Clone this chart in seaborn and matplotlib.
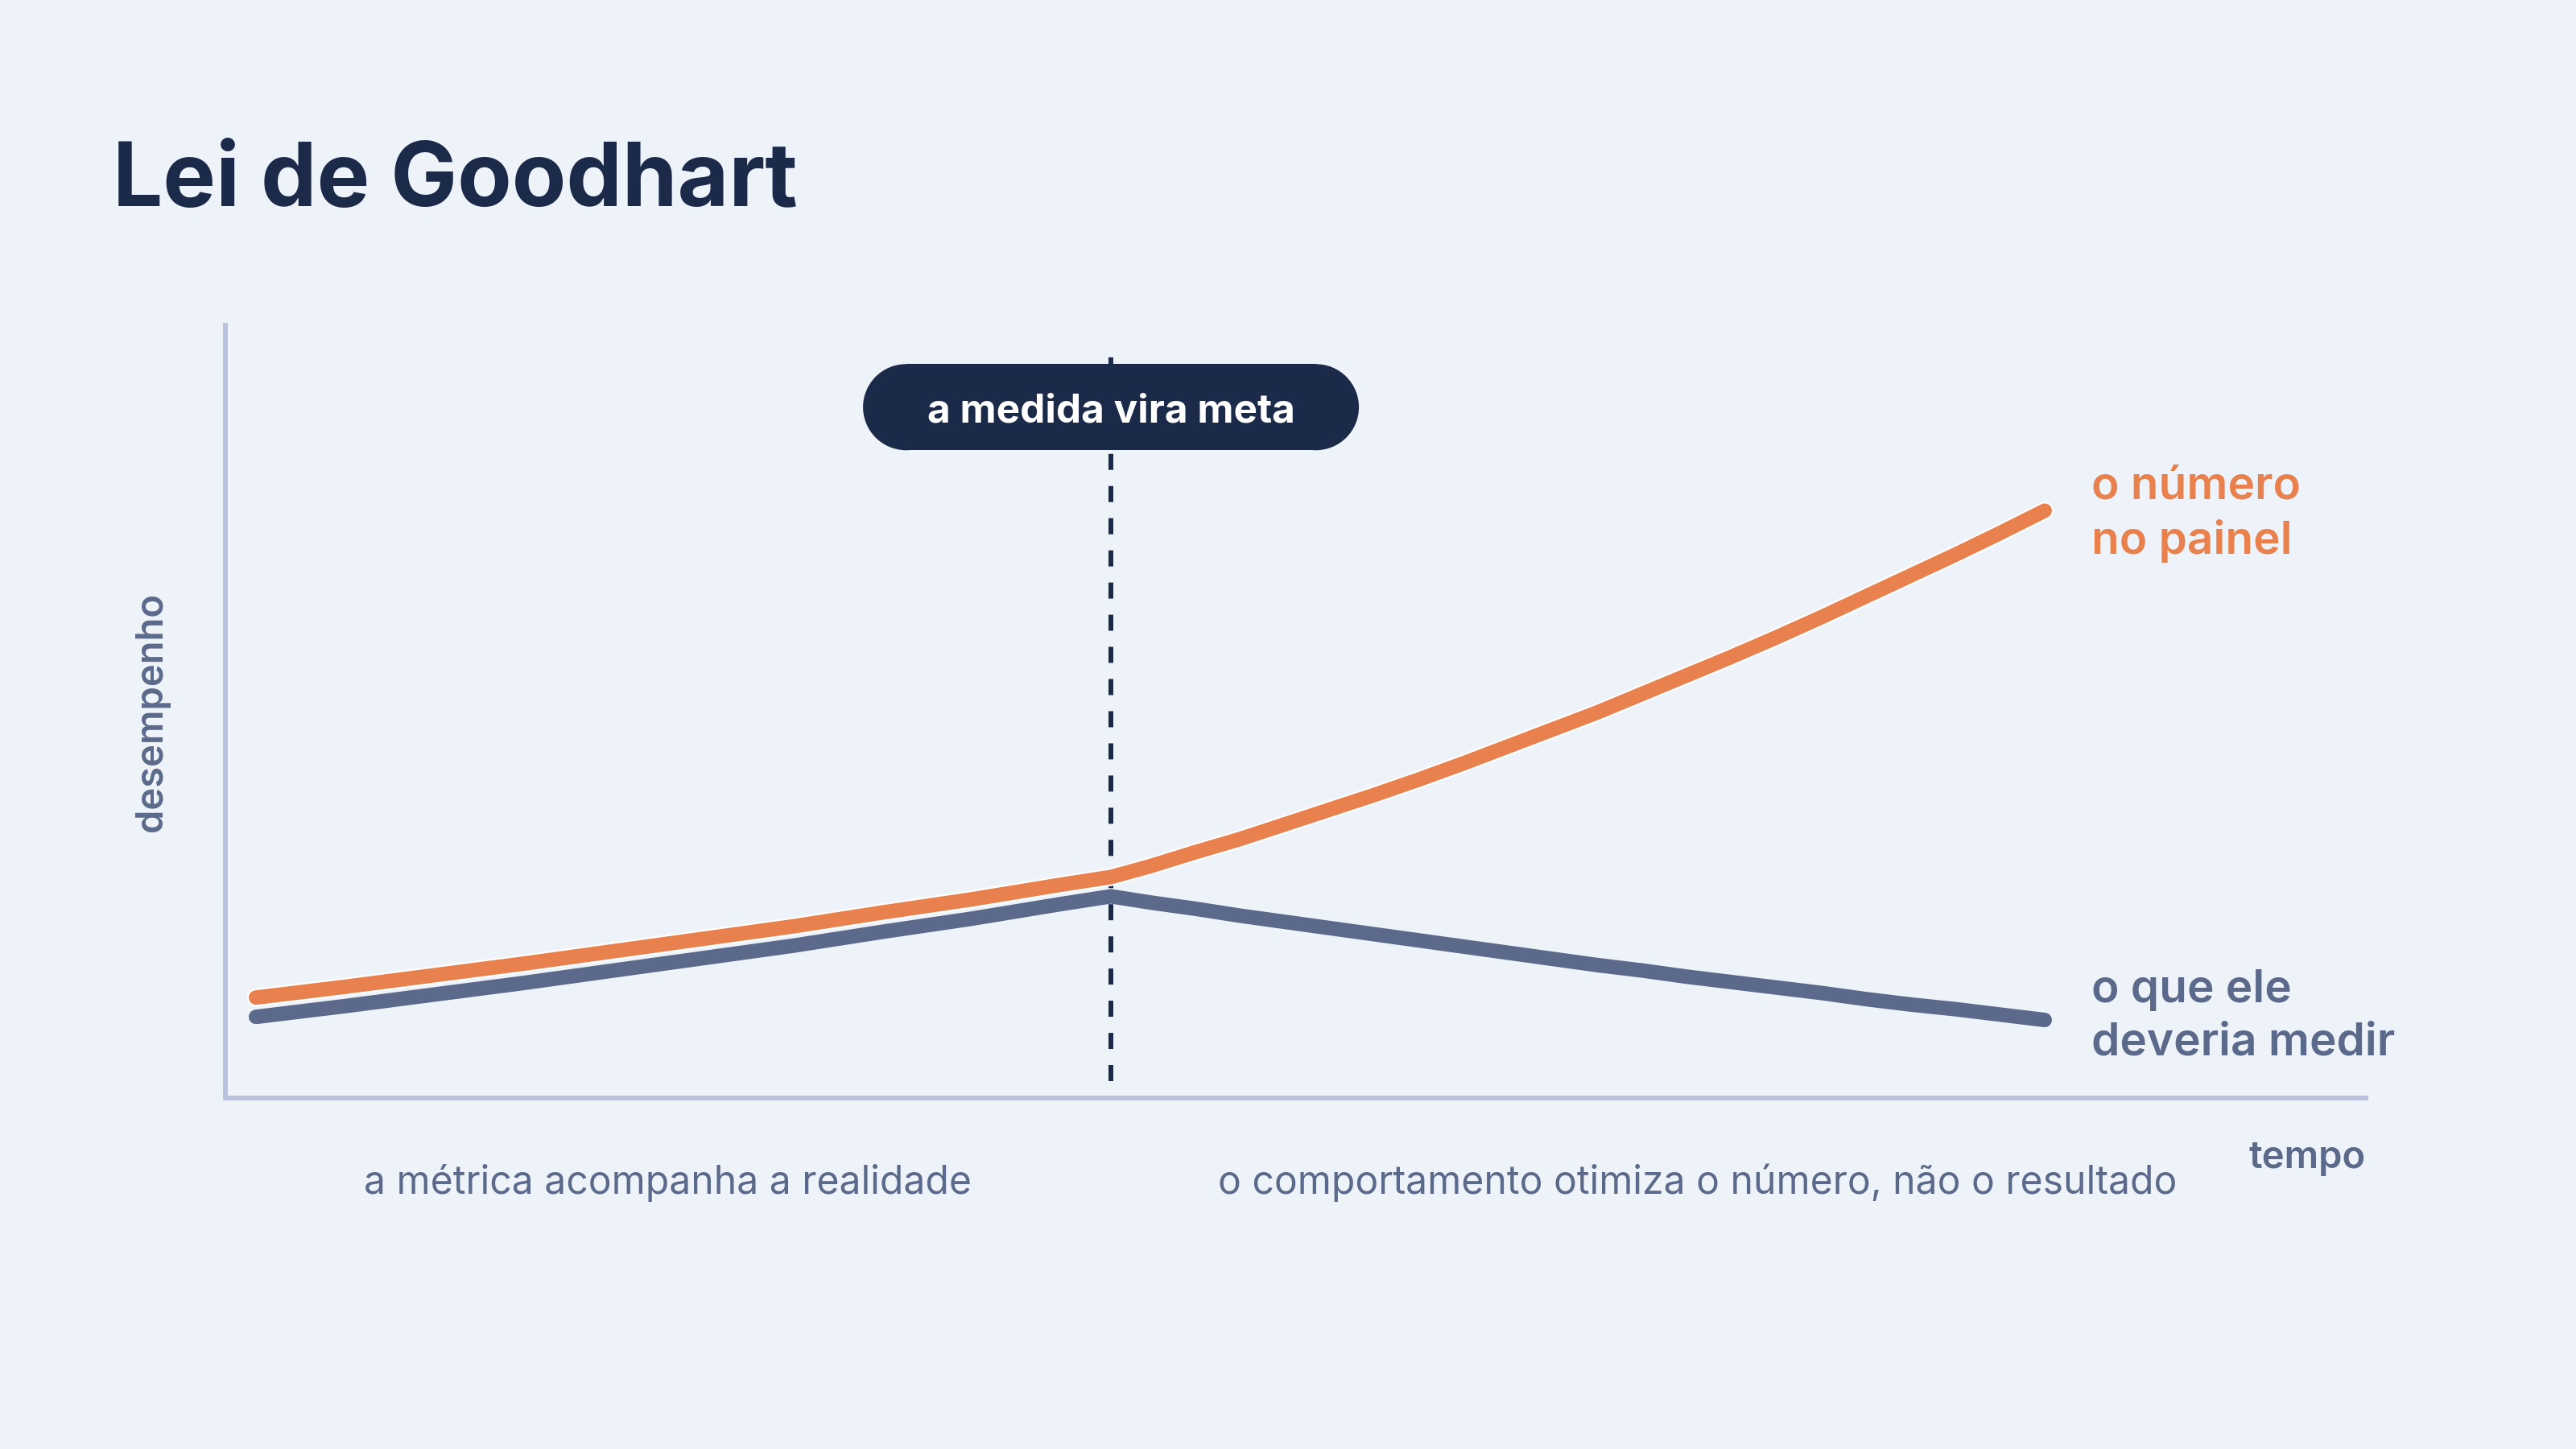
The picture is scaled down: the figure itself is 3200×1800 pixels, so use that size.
import numpy as np
import pandas as pd
import matplotlib
matplotlib.use("Agg")
import matplotlib.pyplot as plt
import seaborn as sns
from matplotlib.patches import Rectangle, Circle
from matplotlib import patheffects as pe
from matplotlib.transforms import ScaledTranslation

# ---------------- data ----------------
title = "Lei de Goodhart"
tempo = [0.0, 0.5, 1.0, 1.5, 2.0, 2.5, 3.0, 3.5, 4.0, 4.5, 4.78,
         5.0, 5.25, 5.5, 5.75, 6.0, 6.25, 6.5, 6.75, 7.0, 7.25, 7.5, 7.75,
         8.0, 8.25, 8.5, 8.75, 9.0, 9.25, 9.5, 9.75, 10.0]
numero_no_painel = [13.0, 14.4, 15.9, 17.4, 19.0, 20.6, 22.2, 24.0, 25.7, 27.6, 28.6,
                    30.0, 31.8, 33.5, 35.4, 37.3, 39.2, 41.2, 43.3, 45.5, 47.7, 49.9, 52.3,
                    54.7, 57.1, 59.6, 62.2, 64.9, 67.6, 70.3, 73.1, 76.0]
o_que_deveria_medir = [10.5, 11.9, 13.4, 14.9, 16.5, 18.1, 19.7, 21.5, 23.2, 25.1, 26.1,
                       25.3, 24.5, 23.6, 22.8, 22.0, 21.2, 20.4, 19.6, 18.8, 18.0, 17.2, 16.5,
                       15.7, 15.0, 14.3, 13.6, 12.8, 12.1, 11.5, 10.8, 10.1]
series_names = ["o número\nno painel", "o que ele\ndeveria medir"]
virada = 4.78
virada_label = "a medida vira meta"
fase_labels = ["a métrica acompanha a realidade",
               "o comportamento otimiza o número, não o resultado"]
fase_centros = [2.30, 8.06]
x_label = "tempo"
y_label = "desempenho"

# ---------------- style ----------------
BG = "#EEF2F9"
ORANGE = "#E8814D"
SLATE = "#5B6A8A"
NAVY = "#1C2A4A"
AXIS = "#B9C3DC"

sns.set_theme(style="white")
plt.rcParams["font.family"] = ["Inter", "DejaVu Sans"]

df = pd.DataFrame({
    "tempo": tempo + tempo,
    "desempenho": o_que_deveria_medir + numero_no_painel,
    "serie": [series_names[1]] * len(tempo) + [series_names[0]] * len(tempo),
})

fig = plt.figure(figsize=(16, 9), dpi=200, facecolor=BG)
ax = fig.add_axes([0.0875, 0.24222, 0.83094, 0.53333])
ax.set_facecolor(BG)

LW = 6.5
sns.lineplot(data=df[df["serie"] == series_names[1]], x="tempo", y="desempenho",
             color=SLATE, lw=LW, ax=ax, legend=False, solid_capstyle="round",
             solid_joinstyle="miter", zorder=3, clip_on=False)
sns.lineplot(data=df[df["serie"] == series_names[0]], x="tempo", y="desempenho",
             color=ORANGE, lw=LW, ax=ax, legend=False, solid_capstyle="round",
             solid_joinstyle="miter", zorder=4, clip_on=False,
             path_effects=[pe.Stroke(linewidth=LW + 1.6, foreground="white"), pe.Normal()])

ax.set_xlim(-0.171, 11.796)
ax.set_ylim(0, 100)

# vertical dashed marker
ax.axvline(virada, ymin=0.022, ymax=0.959, color=NAVY, lw=2.16,
           dashes=(3.33, 3.33), dash_capstyle="butt", zorder=2)

# pill label (sizes in inches, anchored at the turning point)
trans = fig.dpi_scale_trans + ScaledTranslation(virada, 89.4, ax.transData)
PW, PH = 3.08, 0.535
R = PH / 2
for p in [Rectangle((-PW / 2 + R, -R), PW - 2 * R, PH),
          Circle((-PW / 2 + R, 0), R), Circle((PW / 2 - R, 0), R)]:
    p.set_transform(trans)
    p.set_facecolor(NAVY)
    p.set_edgecolor("none")
    p.set_zorder(5)
    p.set_clip_on(False)
    ax.add_patch(p)
ax.text(virada, 87.5, virada_label, ha="center", va="baseline", color="white",
        fontsize=17.8, fontweight="bold", zorder=6)

# end labels
ends = [(numero_no_painel[-1], ORANGE, -1.5), (o_que_deveria_medir[-1], SLATE, 1.6)]
for name, (yv, col, dy) in zip(series_names, ends):
    ax.annotate(name, xy=(tempo[-1], yv), xytext=(20.9, dy), textcoords="offset points",
                ha="left", va="center", fontsize=20.4, fontweight="semibold", color=col,
                linespacing=1.34, annotation_clip=False)

# phase labels
for lab, xc in zip(fase_labels, fase_centros):
    ax.text(xc, -12.4, lab, ha="center", va="baseline", fontsize=17.3,
            color=SLATE, clip_on=False)

# axes styling
for s in ["top", "right"]:
    ax.spines[s].set_visible(False)
for s in ["left", "bottom"]:
    ax.spines[s].set_color(AXIS)
    ax.spines[s].set_linewidth(2.16)
ax.set_xticks([])
ax.set_yticks([])
ax.tick_params(length=0)
ax.set_xlabel(x_label, loc="right", fontsize=17, fontweight="semibold",
              color=SLATE, labelpad=19)
ax.set_ylabel(y_label, fontsize=17, fontweight="semibold", color=SLATE, labelpad=25)

fig.text(0.0438, 0.8578, title, ha="left", va="baseline", fontsize=39.7,
         fontweight="bold", color=NAVY)

fig.savefig("out.png", dpi=200, facecolor=BG)
